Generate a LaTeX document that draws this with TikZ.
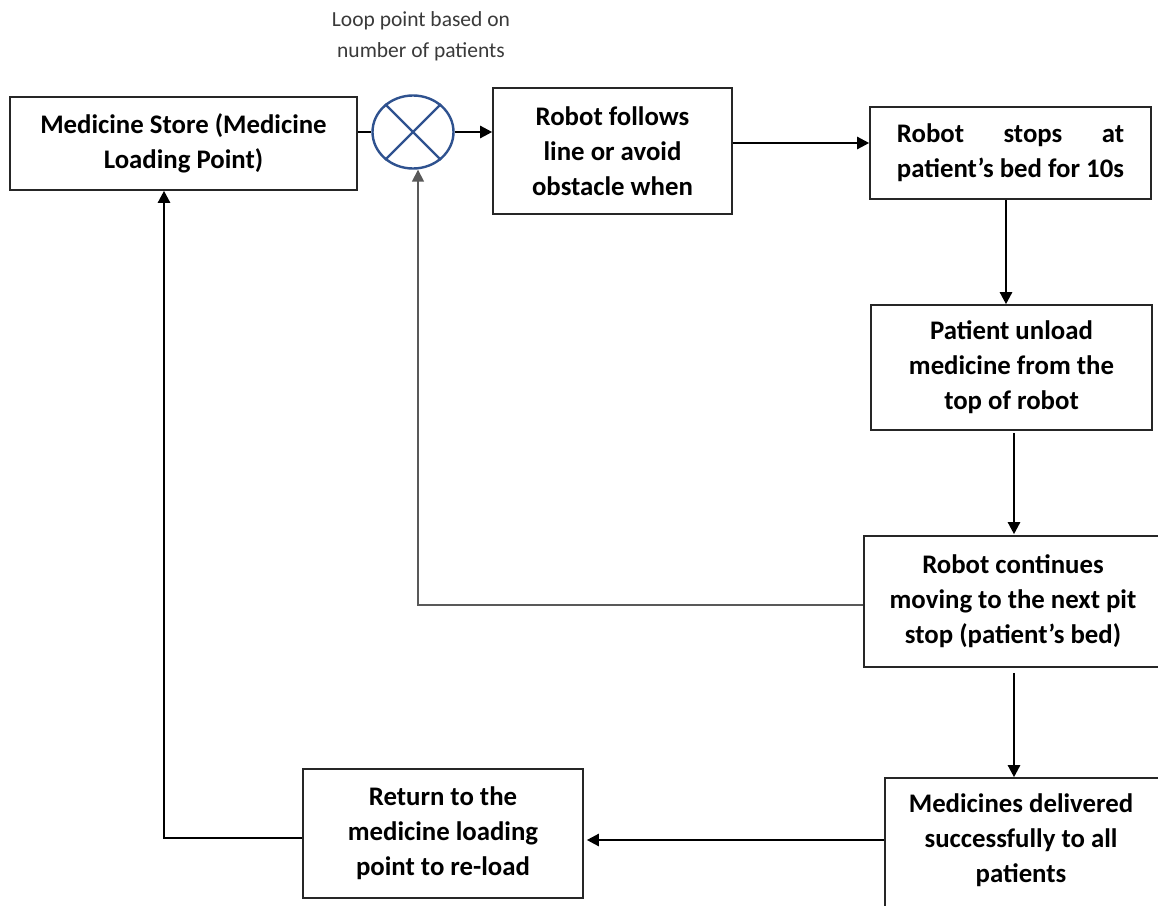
\documentclass[tikz,border=0pt]{standalone}
\usepackage{fontspec}
\setmainfont{Carlito}
\usetikzlibrary{arrows.meta,shapes.geometric}
\definecolor{sumblue}{HTML}{2F528F}
\definecolor{labelgray}{HTML}{3A3A3A}
\begin{document}
\begin{tikzpicture}[x=1pt,y=-1pt,
  box/.style={draw=black!85, line width=1.6pt, rectangle, align=center,
    inner sep=0pt, font=\fontsize{26.8}{35}\selectfont\bfseries},
  arr/.style={draw=black, line width=2.4pt, -{Triangle[length=12pt,width=12pt]}},
  plain/.style={draw=black, line width=2.4pt},
  fb/.style={draw=black!65, line width=1.6pt, -{Triangle[length=12pt,width=12pt]}}]
\useasboundingbox (0,0) rectangle (1158,905);
\clip (0,0) rectangle (1158,905);
\fill[white] (0,0) rectangle (1158,905);

\node[box, minimum width=347pt, minimum height=93pt] (store) at (183.5,143.5)
  {Medicine Store (Medicine\\Loading Point)};
\node[draw=sumblue, line width=2.4pt, ellipse, minimum width=81pt, minimum height=73pt, inner sep=0pt] (sum) at (413,132) {};
\draw[sumblue, line width=2.4pt] (sum.135) -- (sum.-45) (sum.45) -- (sum.-135);
\node[font=\fontsize{21.5}{31}\selectfont, text=labelgray, align=center] (lbl) at (421,36)
  {Loop point based on\\number of patients};
\node[box, minimum width=239pt, minimum height=126pt] (follow) at (612.5,151)
  {Robot follows\\line or avoid\\obstacle when};
\node[box, minimum width=281pt, minimum height=92pt] (stops) at (1010.5,153)
  {\setbox0\hbox{patient’s bed for 10s}\hbox to \wd0{Robot\hfill stops\hfill at}\\patient’s bed for 10s};
\node[box, minimum width=281pt, minimum height=125pt] (unload) at (1011.5,367.5)
  {Patient unload\\medicine from the\\top of robot};
\node[box, minimum width=298pt, minimum height=131pt] (cont) at (1013,601.5)
  {Robot continues\\moving to the next pit\\stop (patient’s bed)};
\node[box, minimum width=275pt, minimum height=134pt] (deliv) at (1022.5,845) {};
\node[box, draw=none] (delivtxt) at (1021,840)
  {Medicines delivered\\successfully to all\\patients};
\node[box, minimum width=280pt, minimum height=129pt] (ret) at (443,833.5)
  {Return to the\\medicine loading\\point to re-load};

\draw[plain] (sum.west -| store.east) -- (sum.west);
\draw[arr] (sum.east) -- (sum.east -| follow.west);
\draw[arr] ([yshift=8pt]follow.east) -- ([yshift=10pt]stops.west);
\draw[arr] ([xshift=-4.5pt]stops.south) -- ([xshift=-5.5pt]unload.north);
\draw[arr] ([xshift=2.5pt,yshift=-2pt]unload.south) -- ([xshift=1pt,yshift=1pt]cont.north);
\draw[arr] ([xshift=1pt,yshift=-5pt]cont.south) -- ([xshift=-8.5pt]deliv.north);
\draw[arr] ([yshift=5pt]deliv.west) -- ([xshift=3pt,yshift=-6.5pt]ret.east);
\draw[plain, -{Triangle[length=12pt,width=12pt]}] ([yshift=-4.5pt]ret.west) -| ([xshift=-19.5pt]store.south);
\draw[fb] ([yshift=-3.5pt]cont.west) -| ([xshift=5pt]sum.south);
\end{tikzpicture}
\end{document}
